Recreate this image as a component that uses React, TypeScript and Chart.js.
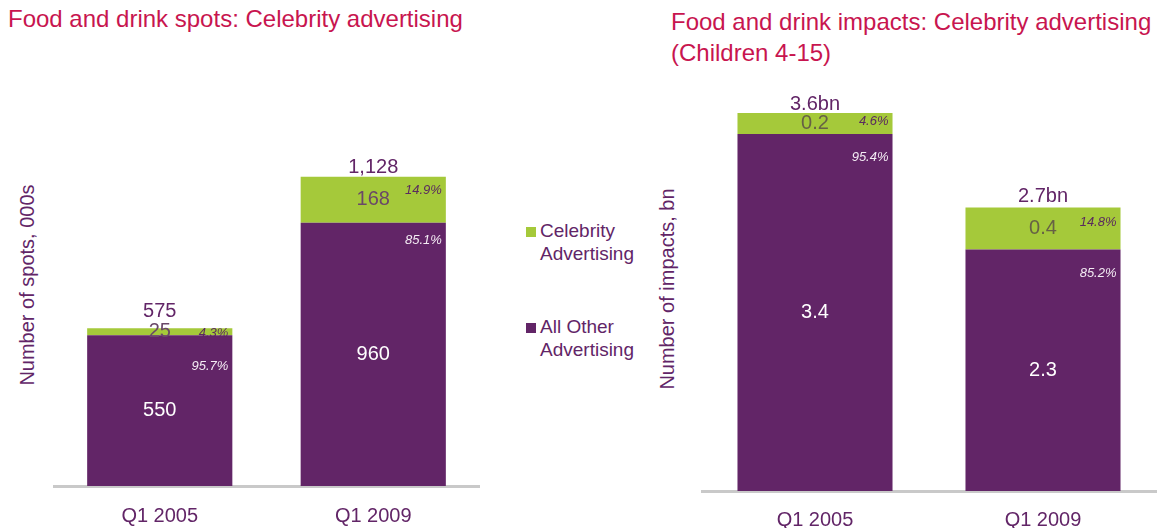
import React, { useEffect, useRef } from "react";
import { Chart, registerables } from "chart.js";

Chart.register(...registerables);

const quarters = ["Q1 2005", "Q1 2009"];

// Food and drink spots, thousands
const spotsOther = [550, 960];
const spotsCelebrity = [25, 168];
const spotsOtherPct = [95.7, 85.1];
const spotsCelebrityPct = [4.3, 14.9];

// Food and drink impacts among children 4-15, billions
const impactsOther = [3.4, 2.3];
const impactsCelebrity = [0.2, 0.4];
const impactsOtherPct = [95.4, 85.2];
const impactsCelebrityPct = [4.6, 14.8];

const PURPLE = "#622567";
const GREEN = "#A5C93A";
const TITLE_RED = "#C8154F";
const AXIS_GREY = "#C9C9C9";
const FONT = "'Liberation Sans', Arial, Helvetica, sans-serif";

type PanelProps = {
  left: number;
  top: number;
  width: number;
  height: number;
  padTop: number;
  axisHeight: number;
  tickPad: number;
  yMax: number;
  other: number[];
  celebrity: number[];
  otherPct: number[];
  celebrityPct: number[];
  fmtValue: (v: number) => string;
  fmtTotal: (v: number) => string;
  totalGap: number[];
  celebPctDy: number[];
  otherPctDy: number[];
  onGreen: string;
};

function StackedPanel(p: PanelProps) {
  const ref = useRef<HTMLCanvasElement | null>(null);

  useEffect(() => {
    if (!ref.current) return;

    const segmentLabels = {
      id: "segmentLabels",
      afterDatasetsDraw(chart: any) {
        const ctx = chart.ctx as CanvasRenderingContext2D;
        const otherMeta = chart.getDatasetMeta(0);
        const celebMeta = chart.getDatasetMeta(1);
        ctx.save();
        quarters.forEach((_, i) => {
          const o = otherMeta.data[i].getProps(["x", "y", "base", "width"], true);
          const c = celebMeta.data[i].getProps(["x", "y", "base", "width"], true);
          const right = o.x + o.width / 2;

          // segment values
          ctx.font = `20px ${FONT}`;
          ctx.textAlign = "center";
          ctx.textBaseline = "middle";
          ctx.fillStyle = "#FFFFFF";
          ctx.fillText(p.fmtValue(p.other[i]), o.x, (o.y + o.base) / 2);
          ctx.fillStyle = p.onGreen;
          ctx.fillText(p.fmtValue(p.celebrity[i]), c.x, (c.y + c.base) / 2);

          // stack total above the bar
          ctx.textBaseline = "alphabetic";
          ctx.fillStyle = PURPLE;
          ctx.fillText(p.fmtTotal(p.other[i] + p.celebrity[i]), c.x, c.y - p.totalGap[i]);

          // shares
          ctx.font = `italic 13px ${FONT}`;
          ctx.textAlign = "right";
          ctx.textBaseline = "middle";
          ctx.fillStyle = "#5A2A5E";
          ctx.fillText(`${p.celebrityPct[i].toFixed(1)}%`, right - 4, c.y + p.celebPctDy[i]);
          ctx.fillStyle = "#F4ECF4";
          ctx.fillText(`${p.otherPct[i].toFixed(1)}%`, right - 4, o.y + p.otherPctDy[i]);
        });
        ctx.restore();
      },
    };

    const chart = new Chart(ref.current, {
      type: "bar",
      data: {
        labels: quarters,
        datasets: [
          {
            label: "All Other Advertising",
            data: p.other,
            backgroundColor: PURPLE,
            borderWidth: 0,
            barPercentage: 0.68,
            categoryPercentage: 1,
          },
          {
            label: "Celebrity Advertising",
            data: p.celebrity,
            backgroundColor: GREEN,
            borderWidth: 0,
            barPercentage: 0.68,
            categoryPercentage: 1,
          },
        ],
      },
      options: {
        responsive: false,
        animation: false,
        devicePixelRatio: 1,
        layout: { padding: { top: p.padTop, left: 0, right: 0, bottom: 0 } },
        plugins: {
          legend: { display: false },
          tooltip: { enabled: false },
        },
        scales: {
          x: {
            stacked: true,
            grid: { display: false, drawTicks: false },
            border: { display: true, color: AXIS_GREY, width: 3 },
            ticks: {
              color: PURPLE,
              font: { family: FONT, size: 20 },
              padding: p.tickPad,
            },
            afterFit: (s: any) => {
              s.height = p.axisHeight;
            },
          },
          y: {
            stacked: true,
            display: false,
            min: 0,
            max: p.yMax,
          },
        },
      },
      plugins: [segmentLabels],
    } as any);

    return () => chart.destroy();
  }, []);

  return (
    <canvas
      ref={ref}
      width={p.width}
      height={p.height}
      style={{ position: "absolute", left: p.left, top: p.top, width: p.width, height: p.height }}
    />
  );
}

const abs = (s: React.CSSProperties): React.CSSProperties => ({ position: "absolute", ...s });

function LegendItem({ top, color, lines }: { top: number; color: string; lines: string[] }) {
  return (
    <>
      <div style={abs({ left: 526, top: top + 8, width: 10, height: 10, background: color })} />
      <div
        style={abs({
          left: 540,
          top,
          fontSize: 19,
          lineHeight: "23px",
          color: PURPLE,
          whiteSpace: "nowrap",
        })}
      >
        {lines.map((l) => (
          <div key={l}>{l}</div>
        ))}
      </div>
    </>
  );
}

function YTitle({ x, y, text }: { x: number; y: number; text: string }) {
  return (
    <div
      style={abs({
        left: x,
        top: y,
        transform: "translate(-50%, -50%) rotate(-90deg)",
        fontSize: 20,
        lineHeight: "24px",
        color: PURPLE,
        whiteSpace: "nowrap",
      })}
    >
      {text}
    </div>
  );
}

export default function App() {
  const thousands = (v: number) => v.toLocaleString("en-US");
  const oneDp = (v: number) => v.toFixed(1);
  const billions = (v: number) => `${v.toFixed(1)}bn`;

  return (
    <div
      style={abs({
        left: 0,
        top: 0,
        width: 1167,
        height: 528,
        overflow: "hidden",
        background: "#FFFFFF",
        fontFamily: FONT,
      })}
    >
      <div style={abs({ left: 8, top: 4, fontSize: 24, lineHeight: "30px", color: TITLE_RED, whiteSpace: "nowrap" })}>
        Food and drink spots: Celebrity advertising
      </div>
      <div style={abs({ left: 671, top: 6, fontSize: 24, lineHeight: "31px", color: TITLE_RED, whiteSpace: "nowrap" })}>
        <div>Food and drink impacts: Celebrity advertising</div>
        <div>(Children 4-15)</div>
      </div>

      <YTitle x={27} y={285} text="Number of spots, 000s" />
      <YTitle x={667} y={289} text="Number of impacts, bn" />

      <StackedPanel
        left={53}
        top={137}
        width={427}
        height={391}
        padTop={20}
        axisHeight={42}
        tickPad={18}
        yMax={1200}
        other={spotsOther}
        celebrity={spotsCelebrity}
        otherPct={spotsOtherPct}
        celebrityPct={spotsCelebrityPct}
        fmtValue={thousands}
        fmtTotal={thousands}
        totalGap={[11, 4]}
        celebPctDy={[5, 14]}
        otherPctDy={[31, 18]}
        onGreen="#6A4868"
      />

      <StackedPanel
        left={701}
        top={71}
        width={456}
        height={457}
        padTop={0}
        axisHeight={37}
        tickPad={17}
        yMax={4}
        other={impactsOther}
        celebrity={impactsCelebrity}
        otherPct={impactsOtherPct}
        celebrityPct={impactsCelebrityPct}
        fmtValue={oneDp}
        fmtTotal={billions}
        totalGap={[3, 6]}
        celebPctDy={[8, 15]}
        otherPctDy={[23, 24]}
        onGreen="#666145"
      />

      <LegendItem top={219} color={GREEN} lines={["Celebrity", "Advertising"]} />
      <LegendItem top={315} color={PURPLE} lines={["All Other", "Advertising"]} />
    </div>
  );
}
